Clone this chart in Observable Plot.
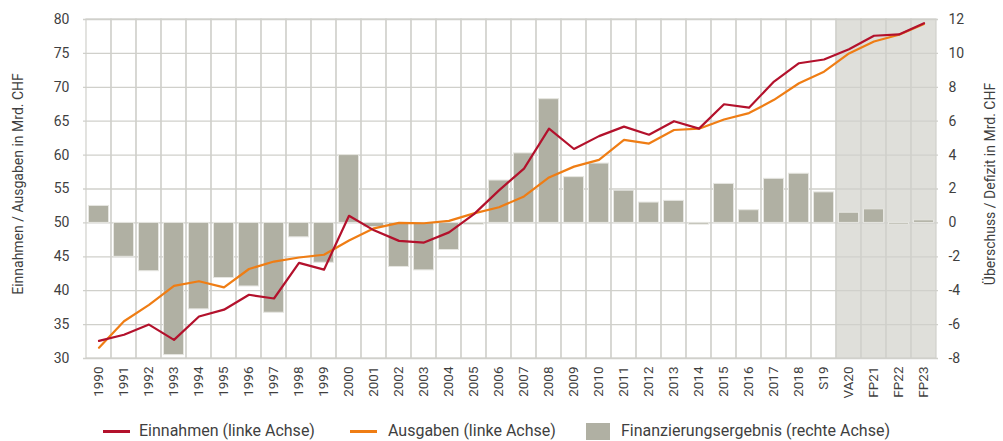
<!DOCTYPE html>
<html>
<head>
<meta charset="utf-8">
<script src="https://cdn.jsdelivr.net/npm/d3@7"></script>
<script src="https://cdn.jsdelivr.net/npm/@observablehq/plot@0.6"></script>
<style>
  html, body { margin: 0; padding: 0; background: #fff; }
  #wrap { position: relative; width: 1003px; height: 441px; font-family: Roboto, "Noto Sans", sans-serif; color: #3f3f3f; overflow: hidden; }
  .ytitle { position: absolute; white-space: nowrap; font-size: 14px; transform: translate(-50%, -50%) rotate(-90deg); }
  .leg { position: absolute; top: 422px; font-size: 16px; line-height: 18px; white-space: nowrap; }
  .sw-line { position: absolute; height: 2.5px; width: 27px; top: 8px; }
  .sw-box { position: absolute; width: 24px; height: 17px; top: 1px; background: #b0b0a3; }
  #chart svg g[aria-label="x-axis tick label"] text { font-size: 13.5px; }
</style>
</head>
<body>
<div id="wrap">
  <div id="chart"></div>
  <div class="ytitle" style="left:18px; top:184px;">Einnahmen / Ausgaben in Mrd. CHF</div>
  <div class="ytitle" style="left:990px; top:184px;">Überschuss / Defizit in Mrd. CHF</div>
  <div class="leg" style="left:103px;"><span class="sw-line" style="left:0; background:#b3112c;"></span><span style="margin-left:36px;">Einnahmen (linke Achse)</span></div>
  <div class="leg" style="left:350px;"><span class="sw-line" style="left:0; background:#ef7d14;"></span><span style="margin-left:38px;">Ausgaben (linke Achse)</span></div>
  <div class="leg" style="left:586px;"><span class="sw-box" style="left:0;"></span><span style="margin-left:35px;">Finanzierungsergebnis (rechte Achse)</span></div>
</div>
<script>
const categories = ["1990","1991","1992","1993","1994","1995","1996","1997","1998","1999",
  "2000","2001","2002","2003","2004","2005","2006","2007","2008","2009",
  "2010","2011","2012","2013","2014","2015","2016","2017","2018","S19",
  "VA20","FP21","FP22","FP23"];
const einnahmen = [32.6,33.5,35.0,32.75,36.2,37.2,39.4,38.85,44.1,43.1,
  51.05,48.9,47.35,47.1,48.6,51.3,54.8,58.0,63.9,60.9,
  62.8,64.2,63.0,65.0,63.9,67.5,67.0,70.85,73.55,74.1,
  75.6,77.6,77.8,79.45];
const ausgaben = [31.6,35.5,37.9,40.7,41.4,40.5,43.2,44.3,44.9,45.3,
  47.4,49.2,50.0,49.95,50.3,51.4,52.3,53.9,56.7,58.3,
  59.3,62.25,61.7,63.7,63.9,65.25,66.2,68.15,70.6,72.3,
  75.0,76.75,77.75,79.35];
const ergebnis = [1.0,-2.0,-2.85,-7.8,-5.1,-3.25,-3.75,-5.3,-0.85,-2.35,
  4.0,-0.25,-2.6,-2.8,-1.6,-0.1,2.5,4.1,7.3,2.7,
  3.5,1.9,1.2,1.3,-0.1,2.3,0.75,2.6,2.9,1.8,
  0.6,0.8,-0.1,0.15];
const leftTicks = [30,35,40,45,50,55,60,65,70,75,80];
const rightTicks = [-8,-6,-4,-2,0,2,4,6,8,10,12];
const forecast = ["VA20","FP21","FP22","FP23"];

// right axis (-8..12) mapped onto left axis (30..80)
const toLeft = v => 50 + v * 2.5;
const data = categories.map((c, i) => ({cat: c, ein: einnahmen[i], aus: ausgaben[i], erg: ergebnis[i]}));

const gridColor = "#d0d0cb";
const chart = Plot.plot({
  width: 1003,
  height: 410,
  marginLeft: 83,
  marginRight: 65,
  marginTop: 19,
  marginBottom: 52,
  style: {fontFamily: "Roboto, 'Noto Sans', sans-serif", color: "#3f3f3f", background: "transparent"},
  x: {type: "band", domain: categories, padding: 0},
  y: {domain: [30, 80]},
  marks: [
    Plot.cell(forecast, {x: d => d, fill: "#dfdfda"}),
    Plot.ruleY(leftTicks, {stroke: gridColor, strokeWidth: 1.3}),
    Plot.cell(categories, {x: d => d, fill: "none", stroke: gridColor, strokeWidth: 1.2}),
    Plot.barY(data, {x: "cat", y1: () => 50, y2: d => toLeft(d.erg), fill: "#b0b0a3", stroke: "#e6e6e1", strokeWidth: 1, insetLeft: 2.5, insetRight: 2.5}),
    Plot.line(data, {x: "cat", y: "aus", stroke: "#ef7d14", strokeWidth: 2.2}),
    Plot.line(data, {x: "cat", y: "ein", stroke: "#b3112c", strokeWidth: 2.2}),
    Plot.axisY(leftTicks, {anchor: "left", tickSize: 0, tickPadding: 14, fontSize: 14, label: null}),
    Plot.axisY(rightTicks.map(toLeft), {anchor: "right", tickSize: 0, tickPadding: 10, fontSize: 14, label: null,
      tickFormat: d => String(Math.round((d - 50) / 2.5))}),
    Plot.axisX({anchor: "bottom", tickRotate: -90, tickSize: 0, tickPadding: 8, fontSize: 13.5, label: null})
  ]
});
document.getElementById("chart").appendChild(chart);
</script>
</body>
</html>
